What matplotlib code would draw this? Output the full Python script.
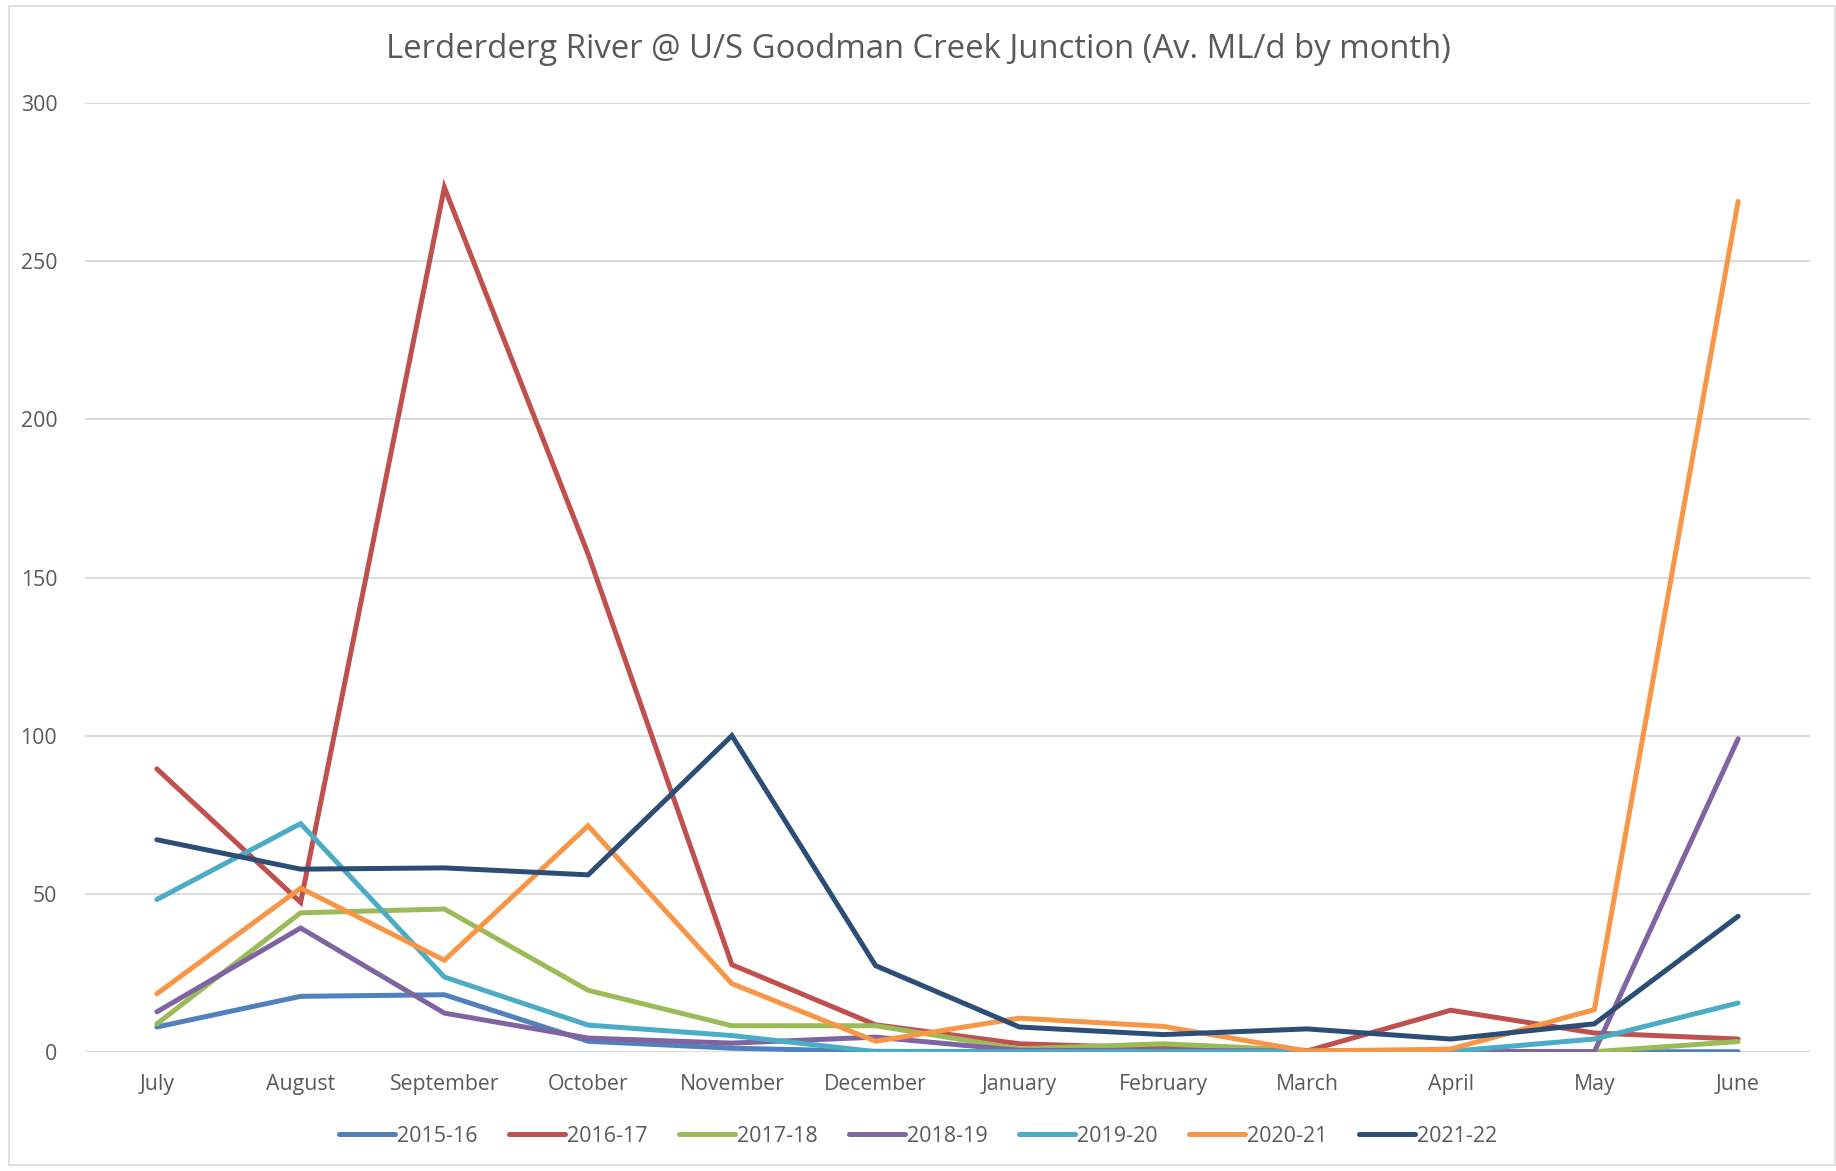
import matplotlib
matplotlib.use("Agg")
import matplotlib.pyplot as plt
from matplotlib.patches import Rectangle

months = ["July", "August", "September", "October", "November", "December",
          "January", "February", "March", "April", "May", "June"]

s2015_16 = [7.9, 17.6, 18.1, 3.4, 1.2, 0.2, 0.1, 0.1, 0.1, 0.1, 0.1, 0.1]
s2016_17 = [89.5, 47.3, 273.3, 157.4, 27.6, 8.6, 2.6, 1.2, 0.3, 13.2, 6.0, 4.1]
s2017_18 = [8.9, 44.0, 45.2, 19.5, 8.3, 8.3, 1.0, 2.6, 0.5, 0.3, 0.1, 3.3]
s2018_19 = [12.7, 39.2, 12.3, 4.4, 2.8, 4.7, 0.5, 0.5, 0.3, 0.2, 0.1, 99.0]
s2019_20 = [48.2, 72.2, 23.7, 8.5, 5.2, 0.1, 0.1, 0.1, 0.1, 0.2, 4.1, 15.5]
s2020_21 = [18.4, 51.8, 29.0, 71.5, 21.6, 3.4, 10.7, 8.1, 0.3, 0.9, 13.4, 268.9]
s2021_22 = [67.1, 57.8, 58.2, 56.0, 100.0, 27.3, 7.9, 5.5, 7.3, 4.1, 8.9, 42.9]

series_names = ["2015-16", "2016-17", "2017-18", "2018-19", "2019-20", "2020-21", "2021-22"]
series_values = [s2015_16, s2016_17, s2017_18, s2018_19, s2019_20, s2020_21, s2021_22]
colors = ["#4F81BD", "#C0504D", "#9BBB59", "#8064A2", "#4BACC6", "#F79646", "#2C4D75"]

yticks = [0, 50, 100, 150, 200, 250, 300]
title = "Lerderderg River @ U/S Goodman Creek Junction (Av. ML/d by month)"

plt.rcParams['font.family'] = ['Open Sans', 'DejaVu Sans']
txt = "#595959"

fig = plt.figure(figsize=(18.36, 11.71), dpi=100)
ax = fig.add_axes([85/1836, 1 - 1052/1171, (1810-85)/1836, (1052-103)/1171])

x = list(range(len(months)))
for name, vals, c in zip(series_names, series_values, colors):
    ax.plot(x, vals, color=c, lw=3.6, label=name, solid_joinstyle='miter',
            solid_capstyle='round', zorder=3)

ax.set_xlim(-0.5, len(months) - 0.5)
ax.set_ylim(0, 300)
ax.set_yticks(yticks)
ax.set_xticks(x)
ax.set_xticklabels(months)
ax.grid(axis='y', color='#D9D9D9', lw=1.3, zorder=0)
ax.set_axisbelow(True)
for sp in ax.spines.values():
    sp.set_visible(False)
ax.tick_params(axis='both', length=0, labelsize=15.3, colors=txt)
ax.tick_params(axis='x', pad=16)
ax.tick_params(axis='y', pad=20)

fig.text(0.5, 1 - 50/1171, title, ha='center', va='center', fontsize=23.7, color=txt)

leg = fig.legend(loc='center', bbox_to_anchor=(0.5, 1 - 1136/1171), ncol=7,
                 frameon=False, fontsize=15.5, handlelength=2.6, handletextpad=0.1,
                 columnspacing=1.45, labelcolor=txt)

fig.patches.append(Rectangle((9/1836, 0.005), 1 - 10/1836, 0.99, transform=fig.transFigure,
                             fill=False, edgecolor='#D9D9D9', lw=1.2))

fig.savefig("out.png", dpi=100)
